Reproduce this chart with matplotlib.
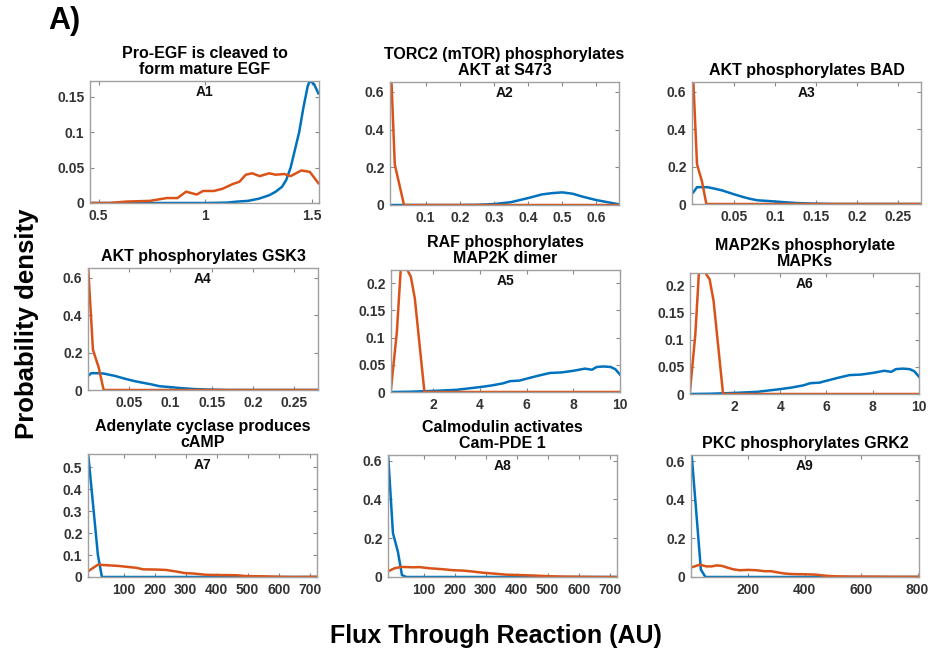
import matplotlib
matplotlib.use("Agg")
import matplotlib.pyplot as plt

plt.rcParams['font.family'] = ['Liberation Sans', 'DejaVu Sans']
plt.rcParams['font.weight'] = 'bold'

BLUE = '#0072BD'
ORANGE = '#D95319'

titles = [
    "Pro-EGF is cleaved to\nform mature EGF",
    "TORC2 (mTOR) phosphorylates\nAKT at S473",
    "AKT phosphorylates BAD",
    "AKT phosphorylates GSK3",
    "RAF phosphorylates\nMAP2K dimer",
    "MAP2Ks phosphorylate\nMAPKs",
    "Adenylate cyclase produces\ncAMP",
    "Calmodulin activates\nCam-PDE 1",
    "PKC phosphorylates GRK2",
]
panel_labels = ["A1", "A2", "A3", "A4", "A5", "A6", "A7", "A8", "A9"]

# ---- data ----
a1_blue_x = [0.46, 0.6, 0.8, 1.0, 1.1, 1.15, 1.2, 1.25, 1.3, 1.33, 1.36, 1.38, 1.40, 1.42, 1.44, 1.46, 1.48, 1.49, 1.51, 1.53]
a1_blue_y = [0, 0, 0, 0, 0.0005, 0.002, 0.003, 0.006, 0.011, 0.016, 0.023, 0.033, 0.05, 0.075, 0.1, 0.135, 0.165, 0.173, 0.168, 0.155]
a1_orange_x = [0.46, 0.55, 0.63, 0.74, 0.82, 0.87, 0.91, 0.96, 0.99, 1.04, 1.08, 1.13, 1.16, 1.19, 1.22, 1.255, 1.30, 1.33, 1.37, 1.40, 1.45, 1.49, 1.53]
a1_orange_y = [0, 0, 0.002, 0.003, 0.007, 0.007, 0.016, 0.012, 0.017, 0.017, 0.02, 0.027, 0.03, 0.04, 0.042, 0.038, 0.042, 0.04, 0.041, 0.038, 0.046, 0.044, 0.028]

a2_blue_x = [0.0, 0.1, 0.2, 0.25, 0.3, 0.35, 0.405, 0.44, 0.47, 0.5, 0.53, 0.56, 0.6, 0.665]
a2_blue_y = [0, 0, 0, 0.001, 0.005, 0.015, 0.039, 0.056, 0.063, 0.067, 0.06, 0.044, 0.026, 0.004]
a2_orange_x = [0.0, 0.01, 0.037, 0.1, 0.665]
a2_orange_y = [0.67, 0.215, 0.0, 0.0, 0.0]

a3_blue_x = [0.0, 0.0046, 0.017, 0.023, 0.035, 0.049, 0.061, 0.070, 0.078, 0.098, 0.11, 0.126, 0.147, 0.17, 0.278]
a3_blue_y = [0.062, 0.09, 0.09, 0.085, 0.073, 0.053, 0.037, 0.027, 0.02, 0.014, 0.01, 0.005, 0.002, 0.0, 0.0]
a3_orange_x = [0.0, 0.0046, 0.0107, 0.016, 0.278]
a3_orange_y = [0.67, 0.213, 0.12, 0.0, 0.0]

a4_blue_x = [0.0, 0.004, 0.010, 0.019, 0.033, 0.045, 0.057, 0.065, 0.077, 0.087, 0.101, 0.113, 0.129, 0.149, 0.17, 0.279]
a4_blue_y = [0.075, 0.09, 0.09, 0.088, 0.075, 0.06, 0.047, 0.04, 0.03, 0.02, 0.015, 0.01, 0.005, 0.002, 0.0, 0.0]
a4_orange_x = [0.0, 0.006, 0.013, 0.019, 0.279]
a4_orange_y = [0.67, 0.215, 0.12, 0.0, 0.0]

a5_blue_x = [0.2, 1.0, 2.0, 3.0, 4.0, 4.5, 5.0, 5.3, 5.7, 6.0, 6.5, 7.0, 7.5, 8.0, 8.5, 8.8, 9.0, 9.3, 9.6, 9.8, 10.0]
a5_blue_y = [0.0, 0.0005, 0.002, 0.004, 0.009, 0.012, 0.016, 0.02, 0.021, 0.0245, 0.03, 0.035, 0.036, 0.039, 0.043, 0.041, 0.046, 0.047, 0.046, 0.042, 0.032]
a5_orange_x = [0.2, 0.45, 0.62, 0.88, 1.05, 1.22, 1.63, 10.0]
a5_orange_y = [0.005, 0.11, 0.228, 0.226, 0.212, 0.172, 0.0, 0.0]

a6_blue_x = [0.1, 1.0, 2.0, 3.0, 4.0, 4.5, 5.0, 5.3, 5.7, 6.0, 6.5, 7.0, 7.5, 8.0, 8.5, 8.8, 9.0, 9.3, 9.6, 9.8, 10.0]
a6_blue_y = [0.0, 0.0005, 0.002, 0.004, 0.009, 0.012, 0.016, 0.02, 0.021, 0.0245, 0.03, 0.035, 0.036, 0.039, 0.043, 0.041, 0.046, 0.047, 0.046, 0.042, 0.032]
a6_orange_x = [0.1, 0.33, 0.49, 0.74, 0.95, 1.12, 1.53, 10.0]
a6_orange_y = [0.005, 0.11, 0.228, 0.226, 0.212, 0.172, 0.0, 0.0]

a7_blue_x = [-16, 16, 29, 100, 724]
a7_blue_y = [0.57, 0.1, 0.0, 0.0, 0.0]
a7_orange_x = [-16, 16, 54, 86, 118, 140, 162, 205, 237, 269, 296, 323, 366, 409, 463, 496, 549, 603, 650, 724]
a7_orange_y = [0.026, 0.056, 0.053, 0.05, 0.045, 0.042, 0.035, 0.034, 0.032, 0.025, 0.018, 0.016, 0.01, 0.009, 0.008, 0.004, 0.003, 0.001, 0.0, 0.001]

a8_blue_x = [-16, 0, 16, 29, 43, 100, 724]
a8_blue_y = [0.64, 0.226, 0.13, 0.01, 0.0, 0.0, 0.0]
a8_orange_x = [-16, 5, 27, 65, 86, 118, 162, 194, 226, 259, 291, 323, 366, 409, 463, 506, 549, 603, 660, 724]
a8_orange_y = [0.029, 0.045, 0.052, 0.05, 0.051, 0.045, 0.04, 0.035, 0.033, 0.028, 0.022, 0.018, 0.012, 0.01, 0.007, 0.004, 0.002, 0.001, 0.0, 0.0]

a9_blue_x = [0, 33, 49, 100, 805]
a9_blue_y = [0.64, 0.038, 0.0, 0.0, 0.0]
a9_orange_x = [0, 29, 53, 71, 88, 106, 124, 147, 170, 200, 229, 259, 282, 300, 329, 359, 406, 441, 465, 488, 523, 582, 641, 712, 805]
a9_orange_y = [0.05, 0.064, 0.055, 0.055, 0.06, 0.058, 0.05, 0.04, 0.035, 0.037, 0.035, 0.03, 0.03, 0.025, 0.018, 0.015, 0.014, 0.012, 0.008, 0.005, 0.003, 0.002, 0.002, 0.001, 0.001]

blue_x = [a1_blue_x, a2_blue_x, a3_blue_x, a4_blue_x, a5_blue_x, a6_blue_x, a7_blue_x, a8_blue_x, a9_blue_x]
blue_y = [a1_blue_y, a2_blue_y, a3_blue_y, a4_blue_y, a5_blue_y, a6_blue_y, a7_blue_y, a8_blue_y, a9_blue_y]
orange_x = [a1_orange_x, a2_orange_x, a3_orange_x, a4_orange_x, a5_orange_x, a6_orange_x, a7_orange_x, a8_orange_x, a9_orange_x]
orange_y = [a1_orange_y, a2_orange_y, a3_orange_y, a4_orange_y, a5_orange_y, a6_orange_y, a7_orange_y, a8_orange_y, a9_orange_y]

x_ticks = [
    [0.5, 1, 1.5],
    [0.1, 0.2, 0.3, 0.4, 0.5, 0.6],
    [0.05, 0.1, 0.15, 0.2, 0.25],
    [0.05, 0.1, 0.15, 0.2, 0.25],
    [2, 4, 6, 8, 10],
    [2, 4, 6, 8, 10],
    [100, 200, 300, 400, 500, 600, 700],
    [100, 200, 300, 400, 500, 600, 700],
    [200, 400, 600, 800],
]
x_ticklabels = [
    ["0.5", "1", "1.5"],
    ["0.1", "0.2", "0.3", "0.4", "0.5", "0.6"],
    ["0.05", "0.1", "0.15", "0.2", "0.25"],
    ["0.05", "0.1", "0.15", "0.2", "0.25"],
    ["2", "4", "6", "8", "10"],
    ["2", "4", "6", "8", "10"],
    ["100", "200", "300", "400", "500", "600", "700"],
    ["100", "200", "300", "400", "500", "600", "700"],
    ["200", "400", "600", "800"],
]
y_ticks = [
    [0, 0.05, 0.1, 0.15],
    [0, 0.2, 0.4, 0.6],
    [0, 0.2, 0.4, 0.6],
    [0, 0.2, 0.4, 0.6],
    [0, 0.05, 0.1, 0.15, 0.2],
    [0, 0.05, 0.1, 0.15, 0.2],
    [0, 0.1, 0.2, 0.3, 0.4, 0.5],
    [0, 0.2, 0.4, 0.6],
    [0, 0.2, 0.4, 0.6],
]
y_ticklabels = [
    ["0", "0.05", "0.1", "0.15"],
    ["0", "0.2", "0.4", "0.6"],
    ["0", "0.2", "0.4", "0.6"],
    ["0", "0.2", "0.4", "0.6"],
    ["0", "0.05", "0.1", "0.15", "0.2"],
    ["0", "0.05", "0.1", "0.15", "0.2"],
    ["0", "0.1", "0.2", "0.3", "0.4", "0.5"],
    ["0", "0.2", "0.4", "0.6"],
    ["0", "0.2", "0.4", "0.6"],
]
x_limits = [(0.46, 1.533), (-0.004, 0.666), (-0.0015, 0.2776), (0.0, 0.279), (0.2, 10.0),
            (0.1, 10.0), (-16, 724), (-16, 724), (-2, 805)]
y_limits = [(0, 0.1725), (0, 0.653), (0, 0.653), (0, 0.653), (0, 0.2245),
            (0, 0.224), (0, 0.561), (0, 0.629), (0, 0.633)]

# ---- layout (pixels: left, top, width, height) ----
W, H = 938, 651
boxes = [
    (90, 81, 229, 122), (390, 82, 229, 123), (692, 82, 229, 122),
    (88, 268, 230, 122), (391, 270, 229, 122), (690, 273, 229, 121),
    (88, 454, 229, 123), (388, 455, 229, 122), (691, 455, 228, 122),
]

fig = plt.figure(figsize=(W / 100, H / 100), dpi=100)
fig.patch.set_facecolor('white')

for i in range(9):
    l, t, w, h = boxes[i]
    ax = fig.add_axes([l / W, 1 - (t + h) / H, w / W, h / H])
    ax.plot(blue_x[i], blue_y[i], color=BLUE, lw=1.8, solid_joinstyle='round')
    ax.plot(orange_x[i], orange_y[i], color=ORANGE, lw=1.8, solid_joinstyle='round')
    ax.set_xlim(*x_limits[i])
    ax.set_ylim(*y_limits[i])
    ax.set_xticks(x_ticks[i])
    ax.set_xticklabels(x_ticklabels[i])
    ax.set_yticks(y_ticks[i])
    ax.set_yticklabels(y_ticklabels[i])
    ax.tick_params(direction='in', top=True, right=True, length=3, width=0.8,
                   color='#888888', labelsize=10, labelcolor='#333333', pad=4)
    for lab in ax.get_xticklabels() + ax.get_yticklabels():
        lab.set_fontweight('bold')
    for sp in ax.spines.values():
        sp.set_color('#a0a0a0')
        sp.set_linewidth(1.0)
    ax.set_title(titles[i], fontsize=11.5, fontweight='bold', linespacing=1.1, pad=5, color='black')
    ax.text(0.5, 0.91, panel_labels[i], transform=ax.transAxes, ha='center', va='center',
            fontsize=10, fontweight='bold', color='#111111')

fig.text(64 / W, 1 - 21 / H, "A)", fontsize=22, fontweight='bold', ha='center', va='center')
fig.text(27 / W, 1 - 324 / H, "Probability density", rotation=90, fontsize=18.5,
         fontweight='bold', ha='center', va='center')
fig.text(496 / W, 1 - 636 / H, "Flux Through Reaction (AU)", fontsize=18,
         fontweight='bold', ha='center', va='center')

fig.savefig("out.png", dpi=100)
